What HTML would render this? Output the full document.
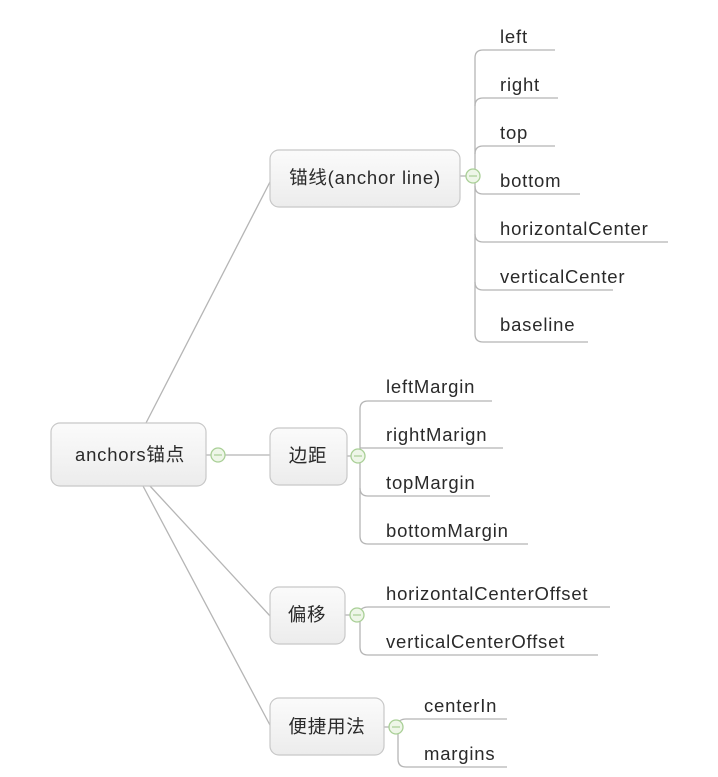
<!DOCTYPE html>
<html><head><meta charset="utf-8"><style>
html,body{margin:0;padding:0;background:#fff;width:718px;height:777px;overflow:hidden}
text{font-family:"Liberation Sans","Noto Sans CJK SC",sans-serif;fill:#2a2a2a}
</style></head><body>
<svg width="718" height="777" viewBox="0 0 718 777" xmlns="http://www.w3.org/2000/svg">
<defs>
<linearGradient id="g" x1="0" y1="0" x2="0" y2="1"><stop offset="0" stop-color="#fbfbfb"/><stop offset="1" stop-color="#ececec"/></linearGradient>
</defs>
<g stroke="#b5b5b5" stroke-width="1.3" fill="none">
<line x1="146" y1="423" x2="271" y2="180"/>
<line x1="206" y1="455" x2="271" y2="455"/>
<line x1="150" y1="486" x2="271" y2="617"/>
<line x1="143" y1="486" x2="271" y2="727"/>
<path d="M475 176 V58 Q475 50 483 50 H555"/>
<path d="M475 106 Q475 98 483 98 H558"/>
<path d="M475 154 Q475 146 483 146 H555"/>
<path d="M475 186 Q475 194 483 194 H580"/>
<path d="M475 176 V334 Q475 342 483 342 H588"/>
<path d="M475 234 Q475 242 483 242 H668"/>
<path d="M475 282 Q475 290 483 290 H613"/>
<line x1="460" y1="176" x2="468" y2="176"/>
<path d="M360 456 V409 Q360 401 368 401 H492"/>
<path d="M360 456 V536 Q360 544 368 544 H528"/>
<path d="M360 448 H503"/>
<path d="M360 488 Q360 496 368 496 H490"/>
<line x1="347" y1="456" x2="352" y2="456"/>
<path d="M358 615 Q360 607 368 607 H610"/>
<path d="M360 620 V647 Q360 655 368 655 H598"/>
<line x1="345" y1="615" x2="351" y2="615"/>
<path d="M396 727 Q398 719 406 719 H507"/>
<path d="M398 732 V759 Q398 767 406 767 H507"/>
<line x1="384" y1="727" x2="389" y2="727"/>
</g>
<g stroke="#c8c8c8" stroke-width="1.2" fill="url(#g)">
<rect x="51" y="423" width="155" height="63" rx="9"/>
<rect x="270" y="150" width="190" height="57" rx="9"/>
<rect x="270" y="428" width="77" height="57" rx="9"/>
<rect x="270" y="587" width="75" height="57" rx="9"/>
<rect x="270" y="698" width="114" height="57" rx="9"/>
</g>
<g stroke="#a9cf96" stroke-width="1.3" fill="#eef6e8">
<circle cx="218" cy="455" r="7"/>
<circle cx="473" cy="176" r="7"/>
<circle cx="358" cy="456" r="7"/>
<circle cx="357" cy="615" r="7"/>
<circle cx="396" cy="727" r="7"/>
</g>
<g stroke="#a9cf96" stroke-width="1.2">
<line x1="214" y1="455" x2="222" y2="455"/>
<line x1="469" y1="176" x2="477" y2="176"/>
<line x1="354" y1="456" x2="362" y2="456"/>
<line x1="353" y1="615" x2="361" y2="615"/>
<line x1="392" y1="727" x2="400" y2="727"/>
</g>
<g font-size="18.5" letter-spacing="0.8">
<text x="130" y="461" text-anchor="middle">anchors锚点</text>
<text x="365" y="184" text-anchor="middle">锚线(anchor line)</text>
<text x="308" y="462" text-anchor="middle">边距</text>
<text x="307" y="621" text-anchor="middle">偏移</text>
<text x="327" y="733" text-anchor="middle">便捷用法</text>
<text x="500" y="43">left</text>
<text x="500" y="91">right</text>
<text x="500" y="139">top</text>
<text x="500" y="187">bottom</text>
<text x="500" y="235">horizontalCenter</text>
<text x="500" y="283">verticalCenter</text>
<text x="500" y="331">baseline</text>
<text x="386" y="393">leftMargin</text>
<text x="386" y="441">rightMarign</text>
<text x="386" y="489">topMargin</text>
<text x="386" y="537">bottomMargin</text>
<text x="386" y="600">horizontalCenterOffset</text>
<text x="386" y="648">verticalCenterOffset</text>
<text x="424" y="712">centerIn</text>
<text x="424" y="760">margins</text>
</g>
</svg>
</body></html>
